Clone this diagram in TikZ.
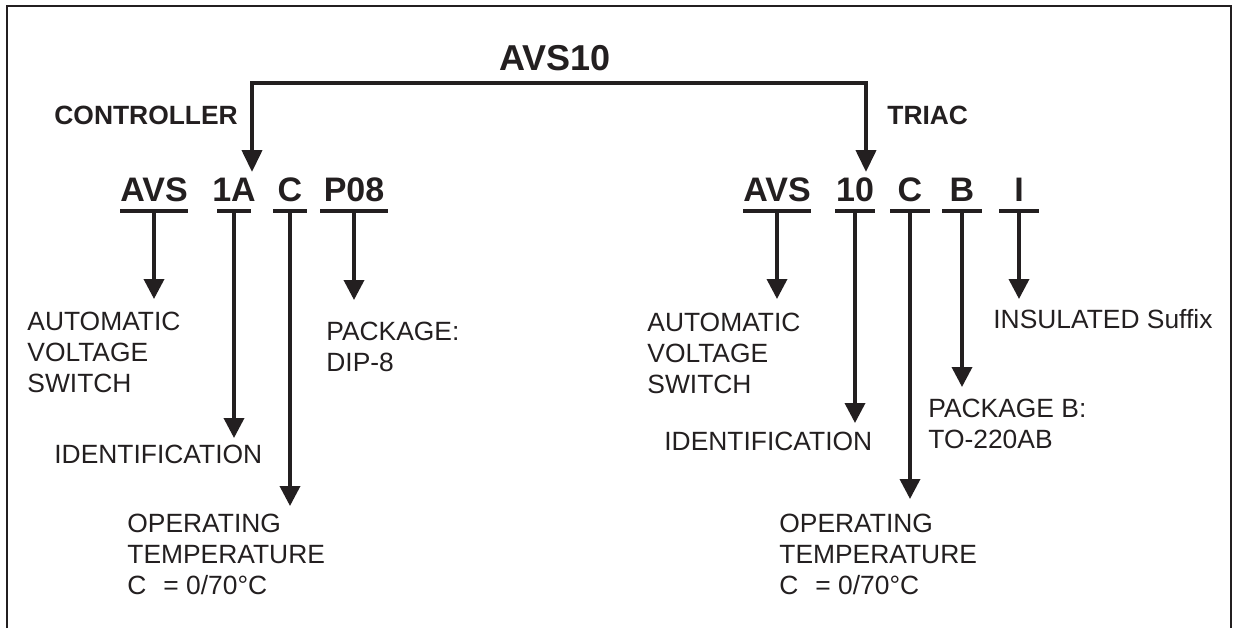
\documentclass[tikz,border=0pt]{standalone}
\usepackage{fontspec}
\setmainfont{Liberation Sans}
\usepackage{tikz}
\usetikzlibrary{positioning,arrows.meta}
\definecolor{inkColor}{RGB}{35,31,32}
\tikzstyle{diagram} = [x = .5pt, y = -.5pt, color=inkColor]
\tikzstyle{frameLine} = [line width=1.2pt]
\tikzstyle{stemArrow} = [line width=1.8pt, -{Triangle[width=10pt, length=10pt]}]
\tikzstyle{bracketArrow} = [line width=2pt, {Triangle[width=10pt, length=11pt]}-{Triangle[width=10pt, length=11pt]}]
\tikzstyle{codeUnder} = [line width=2pt]
\tikzstyle{titleText} = [font=\fontsize{18}{20}\selectfont\bfseries, anchor=base, inner sep=0pt]
\tikzstyle{codeText} = [font=\fontsize{17}{20}\selectfont\bfseries, anchor=base, inner sep=0pt]
\tikzstyle{groupText} = [font=\fontsize{13.2}{15}\selectfont\bfseries, anchor=base west, inner sep=0pt]
% base of a text with several lines is its last line
\tikzstyle{descText} = [font=\fontsize{13.2}{15.5}\selectfont, anchor=base west, inner sep=0pt, align=left]
\newcommand{\codePart}[4]{
  \node [codeText] (#1) at (#2, 201) {#4};
  \draw [codeUnder] (#2 - #3, 211) -- (#2 + #3, 211);
  \coordinate (#1Stem) at (#2, 210);
}
\newcommand{\codeArrow}[3]{
  \coordinate (#1Tip) at (#2, #3);
  \draw [stemArrow] (#1Stem) -- (#1Tip);
}

\begin{document}
\begin{tikzpicture}[diagram]
  \useasboundingbox (0,0) rectangle (1233,628);
  \draw [frameLine] (7,628) -- (7,6) -- (1231,6) -- (1231,628);
  % type number and the two parts
  \node [titleText] (title) at (555,70) {AVS10};
  \coordinate (controllerTip) at (252,172);
  \coordinate (triacTip) at (866,172);
  \draw [bracketArrow] (controllerTip) -- (252,83) -| (triacTip);
  \node [groupText] (controller) at (54,124) {CONTROLLER};
  \node [groupText] (triac) at (887,124) {TRIAC};
  % controller code
  \codePart{avsL}{154}{34}{AVS}
  \codePart{idL}{234}{17}{1A}
  \codePart{tempL}{290}{17}{C}
  \codePart{pkgL}{354}{34}{P08}
  \codeArrow{avsL}{154}{299}
  \codeArrow{idL}{234}{438}
  \codeArrow{tempL}{290}{506}
  \codeArrow{pkgL}{354}{300}
  \node [descText] (avsLText) at (27,392) {AUTOMATIC\\VOLTAGE\\SWITCH};
  \node [descText] (idLText) at (54,463) {IDENTIFICATION};
  \node [descText] (tempLText) at (127,594) {OPERATING\\TEMPERATURE\\C\hspace{8.5pt}= 0/70°C};
  \node [descText] (pkgLText) at (326,371) {PACKAGE:\\DIP-8};
  % triac code
  \codePart{avsR}{777}{34}{AVS}
  \codePart{idR}{855}{20}{10}
  \codePart{tempR}{910}{20}{C}
  \codePart{pkgR}{962}{20}{B}
  \codePart{insR}{1019}{20}{I}
  \codeArrow{avsR}{777}{299}
  \codeArrow{idR}{855}{423}
  \codeArrow{tempR}{910}{499}
  \codeArrow{pkgR}{962}{387}
  \codeArrow{insR}{1019}{299}
  \node [descText] (avsRText) at (647,393) {AUTOMATIC\\VOLTAGE\\SWITCH};
  \node [descText] (idRText) at (664,450) {IDENTIFICATION};
  \node [descText] (tempRText) at (779,594) {OPERATING\\TEMPERATURE\\C\hspace{8.5pt}= 0/70°C};
  \node [descText] (pkgRText) at (928,448) {PACKAGE B:\\TO-220AB};
  \node [descText] (insRText) at (993,328) {INSULATED Suffix};
\end{tikzpicture}
\end{document}
